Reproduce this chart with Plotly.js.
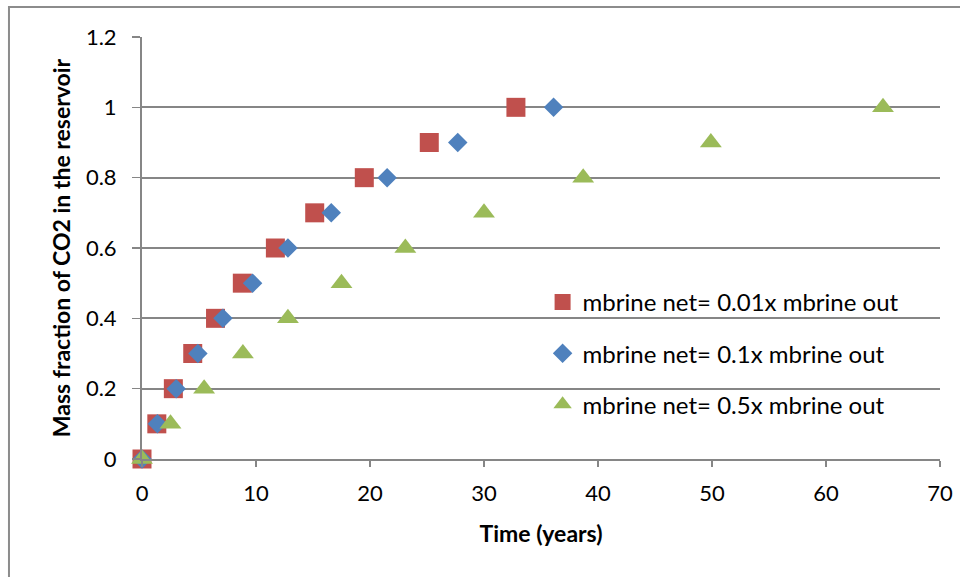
<!DOCTYPE html>
<html>
<head>
<meta charset="utf-8">
<script src="https://cdn.plot.ly/plotly-3.0.1.min.js"></script>
<style>html,body{margin:0;padding:0;background:#fff;}#chart{width:960px;height:577px;}</style>
</head>
<body>
<div id="chart"></div>
<script>
// Data
const massFraction = [0, 0.1, 0.2, 0.3, 0.4, 0.5, 0.6, 0.7, 0.8, 0.9, 1.0];
const time001 = [0, 1.3, 2.75, 4.45, 6.45, 8.8, 11.7, 15.15, 19.5, 25.2, 32.8];
const time01  = [0, 1.35, 3.0, 4.9, 7.1, 9.7, 12.8, 16.6, 21.5, 27.7, 36.1];
const time05  = [0, 2.5, 5.45, 8.85, 12.8, 17.5, 23.1, 30.0, 38.7, 49.9, 65.0];
const seriesNames = ["mbrine net= 0.01x mbrine out", "mbrine net= 0.1x mbrine out", "mbrine net= 0.5x mbrine out"];
const xTicks = [0, 10, 20, 30, 40, 50, 60, 70];
const yTicks = [0, 0.2, 0.4, 0.6, 0.8, 1, 1.2];
const yTickLabels = ["0", "0.2", "0.4", "0.6", "0.8", "1", "1.2"];

const FONT = "Lato, 'Open Sans', sans-serif";
const traces = [
  {x: time001, y: massFraction, name: seriesNames[0], mode: "markers", type: "scatter", cliponaxis: false,
   legendgroup: "a", marker: {symbol: "square", size: 19, color: "#C0504D"}},
  {x: time01, y: massFraction, name: seriesNames[1], mode: "markers", type: "scatter", cliponaxis: false,
   legendgroup: "b", marker: {symbol: "diamond", size: 15, color: "#4F81BD"}},
  {x: time05, y: massFraction, name: seriesNames[2], mode: "markers", type: "scatter", cliponaxis: false,
   legendgroup: "c", marker: {symbol: "triangle-up", size: 19, color: "#9BBB59"}}
];

const layout = {
  width: 960, height: 577,
  margin: {l: 142, r: 20, t: 37, b: 118, pad: 0},
  paper_bgcolor: "#fff", plot_bgcolor: "#fff",
  font: {family: FONT, size: 22, color: "#000"},
  showlegend: true,
  legend: {x: 0.502, y: 0.4245, xanchor: "left", yanchor: "top", bgcolor: "rgba(0,0,0,0)",
           font: {family: FONT, size: 24, color: "#000"}, traceorder: "grouped", tracegroupgap: 17},
  xaxis: {range: [0, 70], tickvals: xTicks, ticktext: xTicks.map(String), showgrid: false, zeroline: false,
          showline: true, linecolor: "#868686", linewidth: 2, ticks: "outside", ticklen: 6, tickcolor: "#868686", tickwidth: 1.5,
          tickfont: {family: FONT, size: 22}, ticklabelstandoff: 8, fixedrange: true,
          title: {text: "<b>Time (years)</b>", font: {family: FONT, size: 23}, standoff: 20}},
  yaxis: {range: [0, 1.2], tickvals: yTicks, ticktext: yTickLabels, showgrid: true, gridcolor: "#868686", gridwidth: 2,
          zeroline: false, showline: true, linecolor: "#868686", linewidth: 2, ticks: "outside", ticklen: 8,
          tickcolor: "#868686", tickwidth: 1.5, tickfont: {family: FONT, size: 22}, ticklabelstandoff: 11, fixedrange: true,
          title: {text: "<b>Mass fraction of CO2 in the reservoir</b>", font: {family: FONT, size: 23}, standoff: 9}},
  shapes: [
    {type: "rect", xref: "paper", yref: "paper", x0: -0.1667, x1: 1.2, y0: -0.5, y1: 1.0711,
     line: {color: "#8c8c8c", width: 2}, fillcolor: "rgba(0,0,0,0)", layer: "below"}
  ]
};

Plotly.newPlot("chart", traces, layout, {displayModeBar: false, staticPlot: true});
</script>
</body>
</html>
